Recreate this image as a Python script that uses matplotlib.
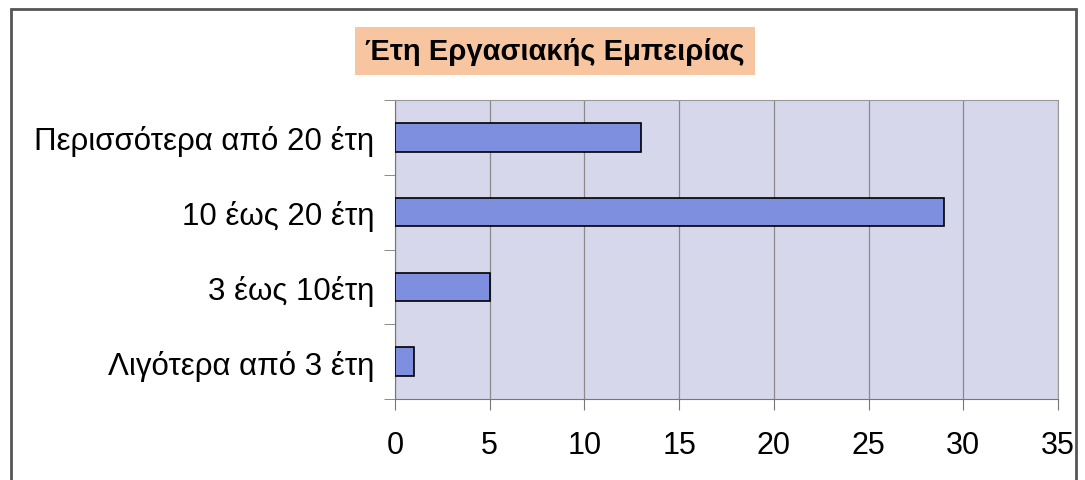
import matplotlib.pyplot as plt
from matplotlib.patches import Rectangle

categories = ["Λιγότερα από 3 έτη", "3 έως 10έτη", "10 έως 20 έτη", "Περισσότερα από 20 έτη"]
values = [1, 5, 29, 13]
xticks = [0, 5, 10, 15, 20, 25, 30, 35]

W, H = 1085, 481
fig = plt.figure(figsize=(W / 100, H / 100), dpi=100)
plt.rcParams['font.family'] = ['Liberation Sans', 'DejaVu Sans']

# outer frame (bottom edge is cut off in the original)
fig.patches.append(Rectangle((11 / W, -0.05), (1076 - 11) / W, 1.05 - 10 / H, transform=fig.transFigure,
                             fill=False, edgecolor="#555555", linewidth=2))

ax = fig.add_axes([395 / W, 1 - 400 / H, (1058 - 395) / W, (400 - 101) / H])
ax.set_facecolor("#d6d7ea")
ax.barh(range(len(categories)), values, height=0.38, color="#7f8fe0", edgecolor="black", linewidth=1.2, zorder=3)
ax.set_xlim(0, 35)
ax.set_ylim(-0.5, len(categories) - 0.5)
ax.set_xticks(xticks)
ax.set_xticklabels([str(t) for t in xticks], fontsize=22)
ax.set_yticks(range(len(categories)))
ax.set_yticklabels(categories, fontsize=22.5)
ax.set_yticks([i + 0.5 for i in range(-1, len(categories))], minor=True)
ax.tick_params(axis="y", which="major", length=0, pad=15)
ax.tick_params(axis="y", which="minor", length=8, color="#777777")
ax.tick_params(axis="x", length=8, color="#777777", pad=14)
ax.xaxis.grid(True, color="#8a8a8a", linewidth=0.9, zorder=0)
for s in ["top", "right"]:
    ax.spines[s].set_color("#999999")
for s in ["left", "bottom"]:
    ax.spines[s].set_color("#777777")

fig.text(555 / W, 1 - 52 / H, "Έτη Εργασιακής Εμπειρίας", fontsize=21, fontweight="bold",
         ha="center", va="center",
         bbox=dict(boxstyle="square,pad=0.35", facecolor="#f7c59f", edgecolor="none"))

fig.savefig("out.png", dpi=100)
